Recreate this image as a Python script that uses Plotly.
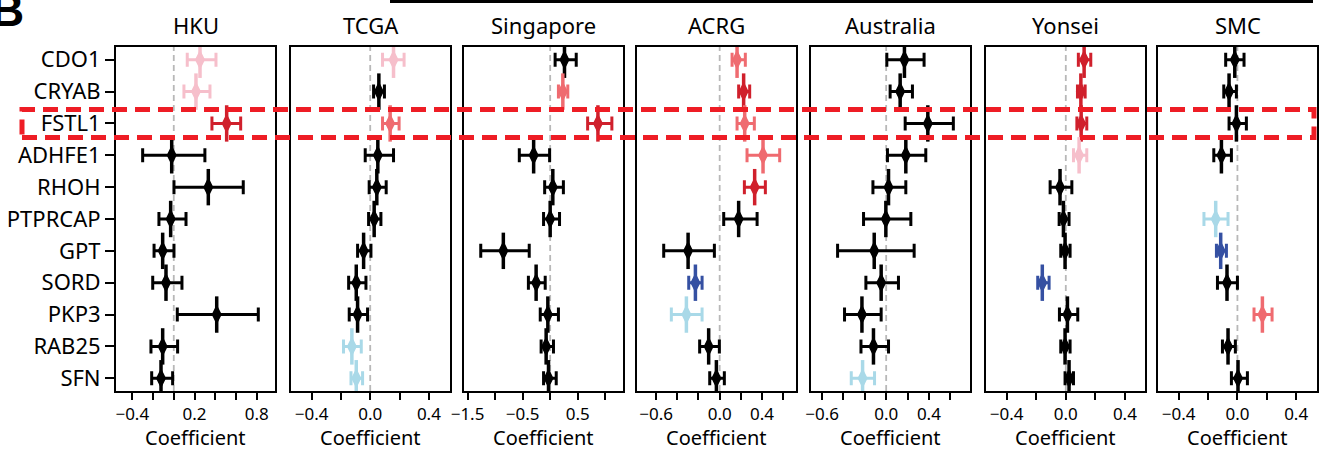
import plotly.graph_objects as go

W, H = 1319, 451

genes = ["CDO1", "CRYAB", "FSTL1", "ADHFE1", "RHOH", "PTPRCAP", "GPT", "SORD", "PKP3", "RAB25", "SFN"]
cohorts = ["HKU", "TCGA", "Singapore", "ACRG", "Australia", "Yonsei", "SMC"]

# estimate, lower CI, upper CI, colour code per gene
HKU_est = [0.253, 0.214, 0.510, -0.020, 0.333, -0.030, -0.107, -0.075, 0.414, -0.107, -0.123]
HKU_lo = [0.130, 0.098, 0.368, -0.300, 0.002, -0.143, -0.190, -0.203, 0.034, -0.220, -0.213]
HKU_hi = [0.407, 0.349, 0.645, 0.300, 0.670, 0.118, 0.002, 0.079, 0.815, 0.037, -0.011]
HKU_col = ["p", "p", "r", "k", "k", "k", "k", "k", "k", "k", "k"]

TCGA_est = [0.159, 0.059, 0.136, 0.052, 0.045, 0.027, -0.045, -0.095, -0.086, -0.125, -0.095]
TCGA_lo = [0.084, 0.023, 0.084, -0.034, -0.007, -0.011, -0.086, -0.147, -0.143, -0.182, -0.131]
TCGA_hi = [0.231, 0.097, 0.197, 0.159, 0.109, 0.073, 0.005, -0.029, -0.018, -0.061, -0.052]
TCGA_col = ["p", "k", "s", "k", "k", "k", "k", "k", "k", "lb", "lb"]

SING_est = [0.26, 0.23, 0.867, -0.30, 0.048, 0.0, -0.85, -0.255, -0.042, -0.073, -0.03]
SING_lo = [0.09, 0.15, 0.68, -0.56, -0.10, -0.12, -1.26, -0.395, -0.18, -0.164, -0.12]
SING_hi = [0.473, 0.32, 1.12, -0.01, 0.24, 0.17, -0.38, -0.09, 0.15, 0.06, 0.11]
SING_col = ["k", "s", "r", "k", "k", "k", "k", "k", "k", "k", "k"]

ACRG_est = [0.164, 0.226, 0.236, 0.409, 0.330, 0.179, -0.298, -0.229, -0.314, -0.104, -0.031]
ACRG_lo = [0.117, 0.179, 0.164, 0.258, 0.233, 0.038, -0.528, -0.292, -0.456, -0.189, -0.094]
ACRG_hi = [0.242, 0.283, 0.327, 0.566, 0.431, 0.353, -0.050, -0.166, -0.166, -0.003, 0.044]
ACRG_col = ["s", "r", "s", "s", "r", "k", "k", "db", "lb", "k", "k"]

AUS_est = [0.171, 0.131, 0.390, 0.184, 0.022, -0.003, -0.112, -0.047, -0.227, -0.119, -0.221]
AUS_lo = [0.006, 0.037, 0.178, 0.012, -0.124, -0.212, -0.455, -0.190, -0.390, -0.236, -0.327]
AUS_hi = [0.355, 0.246, 0.629, 0.371, 0.184, 0.231, 0.262, 0.115, -0.047, 0.022, -0.109]
AUS_col = ["k", "k", "k", "k", "k", "k", "k", "k", "k", "k", "lb"]

YON_est = [0.124, 0.102, 0.104, 0.090, -0.039, -0.016, -0.005, -0.159, 0.011, -0.005, 0.022]
YON_lo = [0.085, 0.079, 0.075, 0.052, -0.106, -0.045, -0.034, -0.190, -0.043, -0.034, -0.005]
YON_hi = [0.169, 0.131, 0.142, 0.142, 0.041, 0.022, 0.029, -0.113, 0.081, 0.029, 0.052]
YON_col = ["r", "r", "r", "p", "k", "k", "k", "db", "k", "k", "k"]

SMC_est = [-0.018, -0.057, -0.007, -0.109, None, -0.148, -0.114, -0.071, 0.170, -0.064, 0.004]
SMC_lo = [-0.080, -0.093, -0.057, -0.161, None, -0.228, -0.143, -0.136, 0.113, -0.102, -0.041]
SMC_hi = [0.045, -0.007, 0.061, -0.041, None, -0.064, -0.075, 0.000, 0.236, -0.014, 0.068]
SMC_col = ["k", "k", "k", "k", "k", "lb", "db", "k", "s", "k", "k"]

# axis ticks
HKU_ticks = [-0.4, -0.2, 0.0, 0.2, 0.4, 0.6, 0.8]
HKU_labels = ["\u22120.4", "", "", "0.2", "", "", "0.8"]
TCGA_ticks = [-0.4, -0.2, 0.0, 0.2, 0.4]
TCGA_labels = ["\u22120.4", "", "0.0", "", "0.4"]
SING_ticks = [-1.5, -1.0, -0.5, 0.0, 0.5, 1.0]
SING_labels = ["\u22121.5", "", "\u22120.5", "", "0.5", ""]
ACRG_ticks = [-0.6, -0.4, -0.2, 0.0, 0.2, 0.4, 0.6]
ACRG_labels = ["\u22120.6", "", "", "0.0", "", "0.4", ""]
AUS_ticks = ACRG_ticks
AUS_labels = ACRG_labels
YON_ticks = TCGA_ticks
YON_labels = TCGA_labels
SMC_ticks = TCGA_ticks
SMC_labels = TCGA_labels

COLORS = {"k": "#000000", "p": "#F6BFCB", "s": "#EF6B70", "r": "#D0202C",
          "lb": "#A9D9E8", "db": "#3550A2"}

panels = [
    (HKU_est, HKU_lo, HKU_hi, HKU_col, HKU_ticks, HKU_labels, (116, 275), (-0.557, 0.976)),
    (TCGA_est, TCGA_lo, TCGA_hi, TCGA_col, TCGA_ticks, TCGA_labels, (291, 450), (-0.54, 0.544)),
    (SING_est, SING_lo, SING_hi, SING_col, SING_ticks, SING_labels, (464, 623), (-1.564, 1.322)),
    (ACRG_est, ACRG_lo, ACRG_hi, ACRG_col, ACRG_ticks, ACRG_labels, (637, 796), (-0.78, 0.72)),
    (AUS_est, AUS_lo, AUS_hi, AUS_col, AUS_ticks, AUS_labels, (811, 970), (-0.704, 0.785)),
    (YON_est, YON_lo, YON_hi, YON_col, YON_ticks, YON_labels, (986, 1145), (-0.54, 0.536)),
    (SMC_est, SMC_lo, SMC_hi, SMC_col, SMC_ticks, SMC_labels, (1158, 1317), (-0.541, 0.542)),
]

FONT = "Noto Sans"
TOP, BOT = 47, 391

fig = go.Figure()
layout = dict(width=W, height=H, margin=dict(l=0, r=0, t=0, b=0, pad=0, autoexpand=False),
              paper_bgcolor="white", plot_bgcolor="white", showlegend=False,
              font=dict(family=FONT, color="black"))
shapes = []
annotations = []

for p, (est, lo, hi, col, ticks, labels, (px0, px1), xr) in enumerate(panels):
    n = p + 1
    xa = "x" if n == 1 else f"x{n}"
    ya = "y" if n == 1 else f"y{n}"
    xkey = "xaxis" if n == 1 else f"xaxis{n}"
    ykey = "yaxis" if n == 1 else f"yaxis{n}"
    layout[xkey] = dict(domain=[px0 / W, px1 / W], range=list(xr), anchor=ya,
                        tickmode="array", tickvals=ticks, ticktext=labels,
                        ticks="outside", ticklen=7,
                        tickwidth=1.5, tickcolor="black", showgrid=False, zeroline=False,
                        showline=True, linecolor="black", linewidth=2, mirror=True,
                        automargin=False,
                        tickfont=dict(size=17, family=FONT, color="black"), fixedrange=True)
    layout[ykey] = dict(domain=[1 - BOT / H, 1 - TOP / H], range=[10.4, -0.4], anchor=xa,
                        tickmode="array",
                        tickvals=list(range(len(genes))) if n == 1 else [],
                        ticktext=genes if n == 1 else [],
                        ticks="outside" if n == 1 else "", ticklen=9, tickwidth=1.5,
                        tickcolor="black", showgrid=False, zeroline=False,
                        showline=True, linecolor="black", linewidth=2, mirror=True,
                        automargin=False,
                        tickfont=dict(size=22, family=FONT, color="black"),
                        showticklabels=(n == 1),
                        fixedrange=True)
    # zero reference line
    shapes.append(dict(type="line", xref=xa, yref=f"{ya} domain", x0=0, x1=0, y0=0, y1=1,
                       line=dict(color="#B8B8B8", width=1.8, dash="6px,4px"), layer="below"))
    for i, g in enumerate(genes):
        if est[i] is None:
            continue
        c = COLORS[col[i]]
        fig.add_trace(go.Scatter(
            x=[est[i]], y=[i], xaxis=xa, yaxis=ya, mode="markers",
            marker=dict(symbol="line-ns", size=26, line=dict(width=3.5, color=c), color=c),
            error_x=dict(type="data", symmetric=False, array=[hi[i] - est[i]],
                         arrayminus=[est[i] - lo[i]], thickness=3, width=7, color=c),
            hoverinfo="skip"))
        fig.add_trace(go.Scatter(
            x=[est[i]], y=[i], xaxis=xa, yaxis=ya, mode="markers",
            marker=dict(symbol="diamond-tall", size=12, line=dict(width=1.5, color=c), color=c),
            hoverinfo="skip"))
    cx = (px0 + px1) / 2 / W
    annotations.append(dict(text=cohorts[p], x=cx, y=1 - 25 / H, xref="paper", yref="paper",
                            showarrow=False, xanchor="center", yanchor="middle",
                            font=dict(size=22, family=FONT)))
    annotations.append(dict(text="Coefficient", x=cx, y=1 - 437 / H, xref="paper", yref="paper",
                            showarrow=False, xanchor="center", yanchor="middle",
                            font=dict(size=20, family=FONT)))

# panel letter
annotations.append(dict(text="<b>B</b>", x=26 / W, y=1 - 28 / H, xref="paper", yref="paper",
                        showarrow=False, xanchor="right", yanchor="bottom", yshift=-10,
                        font=dict(size=46, family="Liberation Sans")))
# header line
shapes.append(dict(type="line", xref="paper", yref="paper", x0=390 / W, x1=1313 / W,
                   y0=1 - 1.5 / H, y1=1 - 1.5 / H, line=dict(color="black", width=3)))
# highlight box around FSTL1
shapes.append(dict(type="rect", xref="paper", yref="paper", x0=22 / W, x1=1314 / W,
                   y0=1 - 137.5 / H, y1=1 - 109.5 / H, layer="above",
                   line=dict(color="#EE1D25", width=5, dash="15px,8px")))

layout["shapes"] = shapes
layout["annotations"] = annotations
fig.update_layout(**layout)
fig.write_html("out.html")
